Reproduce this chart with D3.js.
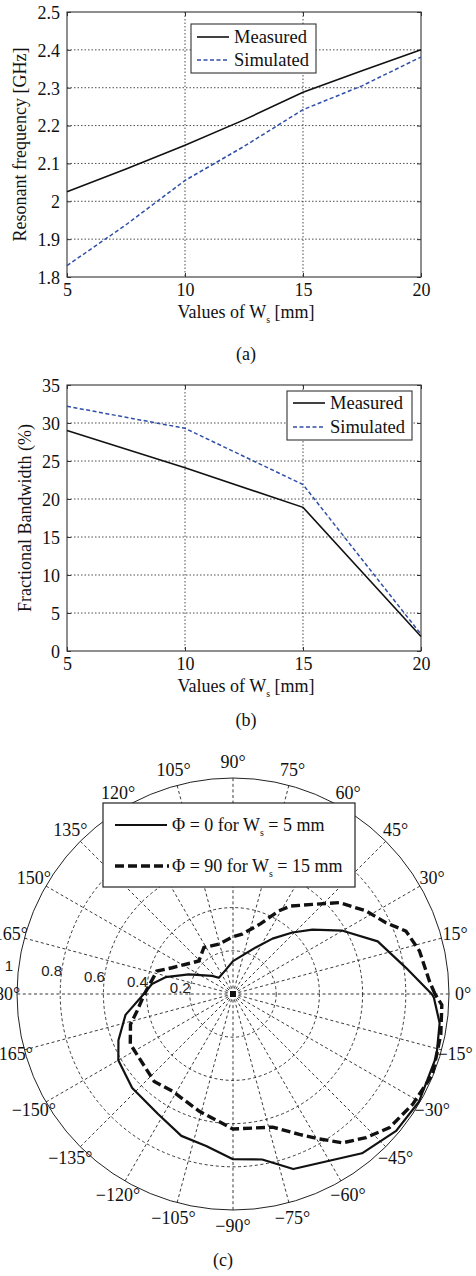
<!DOCTYPE html>
<html><head><meta charset="utf-8">
<script src="https://cdn.jsdelivr.net/npm/d3@7"></script>
<style>body{margin:0;background:#fff} svg{display:block}</style>
</head><body>
<svg id="chart" width="476" height="1276"></svg>
<script>
// ---------- data ----------
const wsA = [5, 7.5, 10, 12.5, 15, 17.5, 20];
const freqMeasured = [2.025, 2.085, 2.148, 2.215, 2.288, 2.345, 2.40];
const freqSimulated = [1.83, 1.938, 2.055, 2.145, 2.242, 2.305, 2.381];
const wsTicks = [5, 10, 15, 20];
const freqTicks = [1.8, 1.9, 2.0, 2.1, 2.2, 2.3, 2.4, 2.5];

const wsB = [5, 10, 15, 20];
const bwMeasured = [29.0, 24.1, 18.9, 1.9];
const bwSimulated = [32.2, 29.3, 21.9, 2.2];
const bwTicks = [0, 5, 10, 15, 20, 25, 30, 35];

const phi0Angles = [0, 8.6, 20, 30, 39, 46, 54.5, 64, 90, 108, 131, 139, 156, 166, 173, 180, 191, 202, 210, 223, 238, 250, 260, 270, 280, 289, 309, 320, 330, 343, 352, 359];
const phi0Values = [0.92, 0.81, 0.713, 0.586, 0.473, 0.396, 0.315, 0.24, 0.152, 0.115, 0.10, 0.128, 0.224, 0.322, 0.378, 0.413, 0.507, 0.572, 0.613, 0.638, 0.655, 0.699, 0.715, 0.765, 0.778, 0.857, 0.949, 0.986, 0.995, 0.985, 0.966, 0.93];

const phi90Angles = [0, 3.8, 13, 20, 25, 32, 40.6, 48.4, 56.7, 61.2, 68.5, 81.4, 90, 106, 122, 136, 156.7, 163.2, 180, 190, 196.5, 206, 220, 228, 238, 254, 270, 286.6, 295.3, 300.7, 306.4, 312.8, 319.5, 328.5, 338, 349, 357];
const phi90Values = [0.935, 0.911, 0.886, 0.852, 0.781, 0.726, 0.65, 0.555, 0.487, 0.439, 0.35, 0.28, 0.265, 0.24, 0.254, 0.22, 0.307, 0.368, 0.41, 0.451, 0.495, 0.529, 0.53, 0.545, 0.53, 0.565, 0.625, 0.643, 0.719, 0.78, 0.856, 0.906, 0.953, 0.976, 0.996, 0.98, 0.968];

const angleTicks = [0, 15, 30, 45, 60, 75, 90, 105, 120, 135, 150, 165, 180, -165, -150, -135, -120, -105, -90, -75, -60, -45, -30, -15];
const ringTicks = [0.2, 0.4, 0.6, 0.8];
const ringLabels = [0.2, 0.4, 0.6, 0.8, 1];

// ---------- helpers ----------
const SERIF = "'Liberation Serif','Times New Roman',Times,serif";
const SANS = "'Liberation Sans',Arial,Helvetica,sans-serif";
const svg = d3.select("#chart");

function subText(g, x, y, pre, sub, post, size, anchor) {
  const t = g.append("text").attr("x", x).attr("y", y)
    .attr("font-family", SERIF).attr("font-size", size)
    .attr("text-anchor", anchor || "start").attr("fill", "#111");
  t.append("tspan").text(pre);
  t.append("tspan").attr("font-size", size * 0.55).attr("dy", size * 0.25).text(sub);
  t.append("tspan").attr("dy", -size * 0.25).text(post);
  return t;
}

function linePanel(opt) {
  const g = svg.append("g");
  const x = d3.scaleLinear().domain([5, 20]).range([opt.x0, opt.x1]);
  const y = d3.scaleLinear().domain(opt.yDomain).range([opt.y1, opt.y0]);
  const fmt = d3.format("~g");

  // grid
  g.append("g").selectAll("line").data(wsTicks.slice(1, -1)).join("line")
    .attr("x1", d => x(d)).attr("x2", d => x(d)).attr("y1", opt.y0).attr("y2", opt.y1)
    .attr("stroke", "#222").attr("stroke-width", 0.8).attr("stroke-dasharray", "1.5,2");
  g.append("g").selectAll("line").data(opt.yTicks.slice(1, -1)).join("line")
    .attr("x1", opt.x0).attr("x2", opt.x1).attr("y1", d => y(d)).attr("y2", d => y(d))
    .attr("stroke", "#222").attr("stroke-width", 0.8).attr("stroke-dasharray", "1.5,2");

  // axes (ticks inward)
  const ax = g.append("g").attr("font-family", SERIF);
  const bottom = ax.append("g").attr("transform", `translate(0,${opt.y1})`)
    .call(d3.axisBottom(x).tickValues(wsTicks).tickSize(-4).tickPadding(6).tickFormat(fmt));
  const top = ax.append("g").attr("transform", `translate(0,${opt.y0})`)
    .call(d3.axisTop(x).tickValues(wsTicks).tickSize(-4).tickFormat(""));
  const left = ax.append("g").attr("transform", `translate(${opt.x0},0)`)
    .call(d3.axisLeft(y).tickValues(opt.yTicks).tickSize(-4).tickPadding(7).tickFormat(fmt));
  const right = ax.append("g").attr("transform", `translate(${opt.x1},0)`)
    .call(d3.axisRight(y).tickValues(opt.yTicks).tickSize(-4).tickFormat(""));
  [bottom, top, left, right].forEach(a => {
    a.select(".domain").remove();
    a.selectAll("line").attr("stroke", "#333");
    a.selectAll("text").attr("font-size", 18).attr("font-family", SERIF).attr("fill", "#111");
  });
  bottom.selectAll("text").attr("dy", "0.7em");
  left.selectAll("text").attr("dy", "0.35em");

  g.append("rect").attr("x", opt.x0).attr("y", opt.y0)
    .attr("width", opt.x1 - opt.x0).attr("height", opt.y1 - opt.y0)
    .attr("fill", "none").attr("stroke", "#333").attr("stroke-width", 1.1);

  const line = d3.line().x(d => x(d[0])).y(d => y(d[1]));
  g.append("path").datum(opt.xs.map((v, i) => [v, opt.meas[i]])).attr("d", line)
    .attr("fill", "none").attr("stroke", "#111").attr("stroke-width", 1.6);
  g.append("path").datum(opt.xs.map((v, i) => [v, opt.sim[i]])).attr("d", line)
    .attr("fill", "none").attr("stroke", "#2f4fa8").attr("stroke-width", 1.5)
    .attr("stroke-dasharray", "4,2.5");

  // labels
  subText(g, (opt.x0 + opt.x1) / 2 + 2, opt.xlabY, "Values of W", "s", " [mm]", 18, "middle");
  g.append("text").attr("transform", `translate(${opt.ylabX},${(opt.y0 + opt.y1) / 2}) rotate(-90)`)
    .attr("text-anchor", "middle").attr("font-family", SERIF).attr("font-size", 18)
    .attr("fill", "#111").text(opt.ylabel);

  // legend
  const L = opt.legend;
  const lg = g.append("g");
  lg.append("rect").attr("x", L.x).attr("y", L.y).attr("width", L.w).attr("height", L.h)
    .attr("fill", "#fff").attr("stroke", "#333").attr("stroke-width", 1.1);
  [["Measured", "#111", null, 1.6], ["Simulated", "#2f4fa8", "4,2.5", 1.5]].forEach((s, i) => {
    const yy = L.y + L.row0 + i * L.dy;
    lg.append("line").attr("x1", L.x + 6).attr("x2", L.x + 38).attr("y1", yy).attr("y2", yy)
      .attr("stroke", s[1]).attr("stroke-width", s[3]).attr("stroke-dasharray", s[2]);
    lg.append("text").attr("x", L.x + 43).attr("y", yy).attr("dy", "0.35em")
      .attr("font-family", SERIF).attr("font-size", 18.5).attr("fill", "#111").text(s[0]);
  });

  g.append("text").attr("x", (opt.x0 + opt.x1) / 2 + 2).attr("y", opt.capY)
    .attr("text-anchor", "middle").attr("font-family", SERIF).attr("font-size", 18)
    .attr("fill", "#111").text(opt.caption);
}

// ---------- panel (a) ----------
linePanel({
  x0: 67, x1: 421, y0: 12, y1: 277,
  yDomain: [1.8, 2.5], yTicks: freqTicks,
  xs: wsA, meas: freqMeasured, sim: freqSimulated,
  ylabel: "Resonant frequency [GHz]", ylabX: 26, xlabY: 318,
  legend: { x: 191, y: 24, w: 125, h: 49, row0: 13, dy: 23 },
  caption: "(a)", capY: 360
});

// ---------- panel (b) ----------
linePanel({
  x0: 67, x1: 421, y0: 385, y1: 651,
  yDomain: [0, 35], yTicks: bwTicks,
  xs: wsB, meas: bwMeasured, sim: bwSimulated,
  ylabel: "Fractional Bandwidth (%)", ylabX: 31, xlabY: 692,
  legend: { x: 287, y: 391, w: 125, h: 49, row0: 12, dy: 24 },
  caption: "(b)", capY: 726
});

// ---------- panel (c) polar ----------
const cx = 233, cy = 994, R = 216;
const rScale = d3.scaleLinear().domain([0, 1]).range([0, R]);
const pg = svg.append("g").attr("transform", `translate(${cx},${cy})`);
const rad = a => a * Math.PI / 180;

// spokes
pg.append("g").selectAll("line").data(d3.range(0, 360, 15)).join("line")
  .attr("x1", 0).attr("y1", 0)
  .attr("x2", d => rScale(1) * Math.cos(rad(d))).attr("y2", d => -rScale(1) * Math.sin(rad(d)))
  .attr("stroke", "#222").attr("stroke-width", 0.9).attr("stroke-dasharray", "3,2.6");
// rings
pg.append("g").selectAll("circle").data(ringTicks).join("circle")
  .attr("r", d => rScale(d)).attr("fill", "none")
  .attr("stroke", "#222").attr("stroke-width", 0.9).attr("stroke-dasharray", "3,2.6");
pg.append("circle").attr("r", rScale(1)).attr("fill", "none").attr("stroke", "#222").attr("stroke-width", 1);
pg.append("rect").attr("x", -3).attr("y", -3).attr("width", 6).attr("height", 6).attr("fill", "#111");

// radial labels
pg.append("g").selectAll("text").data(ringLabels).join("text")
  .attr("x", d => (rScale(d) + 10) * Math.cos(rad(172.8)))
  .attr("y", d => -(rScale(d) + 10) * Math.sin(rad(172.8)))
  .attr("dy", "0.35em").attr("text-anchor", "middle")
  .attr("font-family", SANS).attr("font-size", 15).attr("fill", "#222")
  .text(d => d3.format("~g")(d));

// angle labels
pg.append("g").selectAll("text").data(angleTicks).join("text")
  .attr("x", d => 230 * Math.cos(rad(d)))
  .attr("y", d => -232 * Math.sin(rad(d)))
  .attr("dy", "0.35em").attr("text-anchor", "middle")
  .attr("font-family", SERIF).attr("font-size", 18).attr("fill", "#111")
  .text(d => (d < 0 ? "\u2212" + Math.abs(d) : d) + "\u00b0");

// curves
const radial = d3.lineRadial()
  .angle(d => rad(90 - d[0]))
  .radius(d => rScale(d[1]))
  .curve(d3.curveLinearClosed);
pg.append("path").datum(phi0Angles.map((a, i) => [a, phi0Values[i]])).attr("d", radial)
  .attr("fill", "none").attr("stroke", "#111").attr("stroke-width", 2.2).attr("stroke-linejoin", "round");
pg.append("path").datum(phi90Angles.map((a, i) => [a, phi90Values[i]])).attr("d", radial)
  .attr("fill", "none").attr("stroke", "#111").attr("stroke-width", 3.4).attr("stroke-dasharray", "9,4");

// legend
const lgc = svg.append("g");
lgc.append("rect").attr("x", 103).attr("y", 803).attr("width", 252).attr("height", 84)
  .attr("fill", "#fff").attr("stroke", "#222").attr("stroke-width", 1.2);
lgc.append("line").attr("x1", 115).attr("x2", 167).attr("y1", 825).attr("y2", 825)
  .attr("stroke", "#111").attr("stroke-width", 2.2);
lgc.append("line").attr("x1", 115).attr("x2", 169).attr("y1", 866).attr("y2", 866)
  .attr("stroke", "#111").attr("stroke-width", 3.4).attr("stroke-dasharray", "9,4");
subText(lgc, 172, 831, "\u03a6 = 0 for W", "s", " = 5 mm", 18);
subText(lgc, 172, 872, "\u03a6 = 90 for W", "s", " = 15 mm", 18);

svg.append("text").attr("x", 223).attr("y", 1266).attr("text-anchor", "middle")
  .attr("font-family", SERIF).attr("font-size", 18).attr("fill", "#111").text("(c)");
</script>
</body></html>
